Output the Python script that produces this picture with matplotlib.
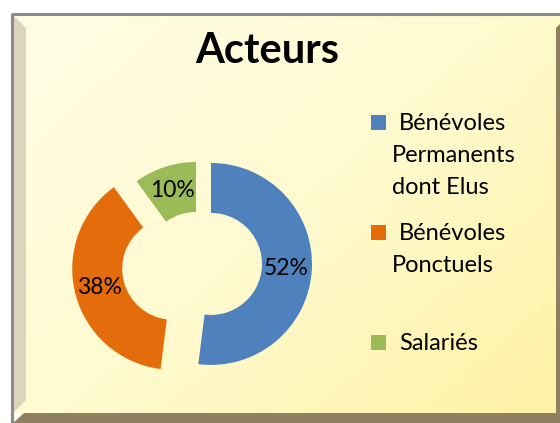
import numpy as np
import matplotlib
matplotlib.use("Agg")
import matplotlib.pyplot as plt
from matplotlib.patches import Polygon, Rectangle
from matplotlib.colors import LinearSegmentedColormap

# ---- data ----
title = "Acteurs"
categories = ["Bénévoles\nPermanents\ndont Elus", "Bénévoles\nPonctuels", "Salariés"]
values = [52, 38, 10]
colors = ["#4f81bd", "#e46c0a", "#9bbb59"]
explode = [0.15, 0.235, 0.0]

W, H = 560, 423
plt.rcParams['font.family'] = ['Lato', 'DejaVu Sans']
fig = plt.figure(figsize=(W / 100, H / 100), dpi=100)

# background axes in pixel coordinates (y downwards)
bg = fig.add_axes([0, 0, 1, 1])
bg.set_xlim(0, W)
bg.set_ylim(H, 0)
bg.axis("off")
bg.add_patch(Rectangle((0, 0), W, H, color="white", zorder=0))

# gradient panel
gx, gy = np.meshgrid(np.linspace(0, 1, 200), np.linspace(0, 1, 200))
grad = (gx * 0.55 + gy * 0.45)
cmap = LinearSegmentedColormap.from_list("bgc", ["#fffee6", "#fffad0", "#fff2a4"])
bg.imshow(grad, cmap=cmap, extent=(13, W, 413, 15), zorder=1, aspect="auto")

# frame / bevels
bg.add_patch(Polygon([(13, 15), (26, 28), (26, 400), (13, 413)], closed=True,
                     facecolor="#ddd4bc", edgecolor="none", zorder=2))
bg.add_patch(Polygon([(13, H), (24, 413), (W, 413), (W, H)], closed=True,
                     facecolor="#8f805f", edgecolor="none", zorder=2))
bg.add_patch(Polygon([(556, 28), (W, 24), (W, H), (556, 413)], closed=True,
                     facecolor="#8f805f", edgecolor="none", zorder=2))
bg.plot([12, W], [14, 14], color="#8c8c8c", lw=2.2, zorder=3, solid_capstyle="butt")
bg.plot([12, 12], [13, H], color="#8c8c8c", lw=2.2, zorder=3, solid_capstyle="butt")

# title
bg.text(267, 51, title, ha="center", va="center", fontsize=30,
        fontweight="bold", color="black", zorder=5)

# pie axes: centre at (196, 263) px, 1 unit = 100 px
cx, cy = 196, 263
size = 400
pax = fig.add_axes([(cx - size / 2) / W, (H - cy - size / 2) / H, size / W, size / H])
pax.set_xlim(-2, 2)
pax.set_ylim(-2, 2)
pax.axis("off")
wedges, texts, autotexts = pax.pie(
    values, colors=colors, explode=explode, startangle=90, counterclock=False,
    radius=1.01, autopct="%1.0f%%", pctdistance=0.75,
    wedgeprops=dict(width=0.5, edgecolor="none"),
    textprops=dict(fontsize=16.5, color="black"))
pax.set_xlim(-2, 2)
pax.set_ylim(-2, 2)

# legend
marker_y = [123, 233, 343]
line_gap = 32
for cat, col, my in zip(categories, colors, marker_y):
    bg.add_patch(Rectangle((371, my - 7.5), 15, 15, facecolor=col,
                           edgecolor="none", zorder=5))
    lines = cat.split("\n")
    for i, ln in enumerate(lines):
        x = 399 if i == 0 else 392
        bg.text(x, my + 7.5 + i * line_gap, ln, ha="left", va="baseline",
                fontsize=17, color="black", zorder=5)

fig.savefig("out.png", dpi=100)
